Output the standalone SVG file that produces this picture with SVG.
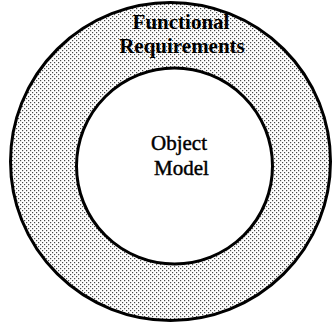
<svg xmlns="http://www.w3.org/2000/svg" width="334" height="322" viewBox="0 0 334 322">
  <defs>
    <!-- halftone stipple used for the outer ring -->
    <pattern id="stipple" width="4" height="4" patternUnits="userSpaceOnUse">
      <rect width="4" height="4" fill="#ffffff"/>
      <rect x="0" y="0" width="1.2" height="1.2" fill="#4a4a4a"/>
      <rect x="2" y="2" width="1.2" height="1.2" fill="#4a4a4a"/>
    </pattern>
    <style>
      .ring { stroke: #000; stroke-width: 3; }
      .label { font-family: "Liberation Serif", "Times New Roman", serif; font-size: 21px; fill: #000; text-anchor: middle; }
      .bold { font-weight: bold; }
      .heavy { stroke: #000; stroke-width: 0.45; }
    </style>
  </defs>

  <rect width="334" height="322" fill="#ffffff"/>

  <g id="functional-requirements">
    <ellipse class="ring" cx="170.5" cy="161.5" rx="160" ry="159" fill="url(#stipple)"/>
    <text class="label bold" x="181" y="29">Functional</text>
    <text class="label bold" x="182" y="53">Requirements</text>
  </g>

  <g id="object-model">
    <circle class="ring" cx="174.5" cy="166" r="98" fill="#ffffff"/>
    <text class="label heavy" x="179" y="150">Object</text>
    <text class="label heavy" x="181.5" y="175">Model</text>
  </g>

  <g id="connectors"/>
</svg>
